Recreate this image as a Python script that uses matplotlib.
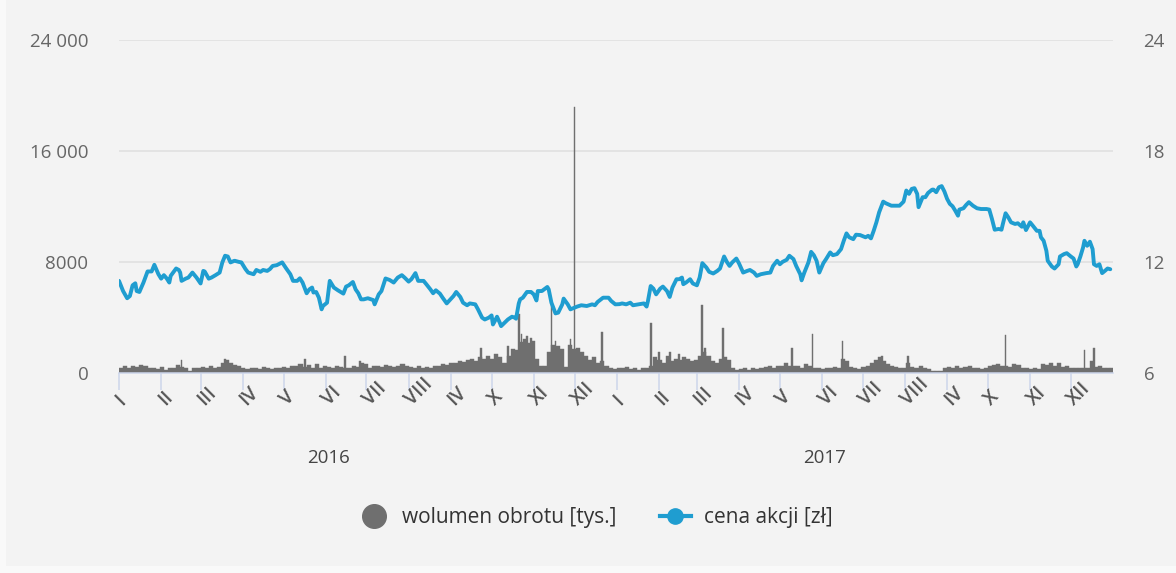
import numpy as np
import pandas as pd
import matplotlib
matplotlib.use("Agg")
import matplotlib.pyplot as plt
from matplotlib.lines import Line2D
from matplotlib.patches import Rectangle
import matplotlib.transforms as mtransforms

plt.rcParams['font.family'] = ['Open Sans', 'DejaVu Sans']

# ---- data -------------------------------------------------------------
start = pd.Timestamp('2016-01-01')
end = pd.Timestamp('2018-01-01')

# share price [zł], sampled on days counted from 1 Jan 2016
price_day = [
    0, 3, 6, 8, 10, 12, 13, 15, 18, 21,
    24, 26, 29, 31, 33, 35, 37, 38, 42, 44,
    45, 46, 49, 51, 54, 57, 60, 62, 63, 66,
    68, 71, 74, 76, 78, 80, 82, 85, 88, 90,
    93, 95, 99, 101, 104, 106, 109, 111, 113, 116,
    120, 123, 126, 128, 131, 133, 135, 138, 140, 142,
    143, 145, 147, 149, 150, 153, 155, 158, 161, 165,
    167, 169, 172, 174, 176, 178, 180, 183, 187, 188,
    191, 193, 196, 199, 202, 205, 208, 210, 213, 215,
    218, 220, 224, 226, 229, 231, 233, 236, 238, 241,
    243, 246, 248, 251, 253, 256, 258, 262, 264, 267,
    269, 272, 274, 275, 276, 278, 280, 281, 284, 286,
    289, 291, 292, 294, 295, 297, 300, 303, 305, 307,
    308, 311, 315, 316, 318, 321, 323, 326, 327, 330,
    332, 335, 337, 340, 344, 348, 350, 352, 356, 360,
    362, 365, 368, 370, 373, 376, 378, 382, 386, 388,
    389, 391, 393, 395, 398, 400, 403, 405, 407, 410,
    412, 414, 415, 417, 420, 422, 425, 427, 429, 432,
    434, 437, 440, 442, 445, 447, 449, 451, 454, 456,
    459, 462, 464, 467, 469, 472, 476, 479, 481, 484,
    486, 488, 491, 493, 496, 498, 501, 502, 504, 507,
    509, 511, 513, 515, 518, 520, 523, 525, 528, 531,
    533, 535, 537, 540, 542, 545, 549, 551, 553, 555,
    557, 559, 562, 564, 568, 571, 574, 577, 579, 581,
    583, 585, 587, 588, 590, 591, 593, 595, 598, 599,
    601, 603, 605, 607, 609, 611, 613, 615, 617, 618,
    621, 623, 625, 628, 631, 634, 638, 640, 642, 644,
    647, 649, 650, 652, 654, 656, 659, 661, 664, 665,
    667, 670, 672, 675, 677, 678, 680, 682, 683, 686,
    688, 691, 692, 695, 697, 700, 702, 704, 705, 707,
    709, 710, 712, 714, 716, 717, 719, 721, 723, 725,
    727, 729,
]
price_value = [
    10.96, 10.41, 10.02, 10.14, 10.72, 10.83, 10.41, 10.36, 10.87, 11.47,
    11.47, 11.83, 11.32, 11.08, 11.27, 11.10, 10.87, 11.23, 11.63, 11.55,
    11.41, 10.96, 11.08, 11.14, 11.41, 11.14, 10.82, 11.50, 11.47, 11.08,
    11.14, 11.27, 11.41, 11.96, 12.32, 12.28, 11.96, 12.05, 11.99, 11.96,
    11.60, 11.41, 11.32, 11.55, 11.45, 11.55, 11.50, 11.60, 11.77, 11.81,
    11.96, 11.63, 11.32, 10.96, 10.96, 11.10, 10.87, 10.29, 10.50, 10.60,
    10.33, 10.36, 10.05, 9.42, 9.60, 9.78, 10.96, 10.60, 10.45, 10.27,
    10.65, 10.72, 10.90, 10.50, 10.29, 9.96, 9.96, 10.02, 9.92, 9.69,
    10.23, 10.41, 11.09, 11.01, 10.87, 11.14, 11.27, 11.14, 10.92, 11.05,
    11.38, 10.96, 10.96, 10.78, 10.50, 10.29, 10.45, 10.27, 10.05, 9.74,
    9.90, 10.14, 10.36, 10.09, 9.78, 9.64, 9.74, 9.69, 9.42, 8.97,
    8.87, 8.97, 9.09, 8.60, 8.73, 9.02, 8.70, 8.51, 8.73, 8.87,
    9.02, 8.97, 8.91, 9.74, 9.96, 10.05, 10.36, 10.36, 10.23, 9.90,
    10.41, 10.41, 10.63, 10.50, 9.78, 9.20, 9.24, 9.69, 10.00, 9.69,
    9.42, 9.51, 9.57, 9.64, 9.60, 9.69, 9.64, 9.82, 10.05, 10.05,
    9.87, 9.69, 9.70, 9.74, 9.69, 9.78, 9.64, 9.69, 9.74, 9.57,
    9.87, 10.68, 10.54, 10.23, 10.54, 10.65, 10.41, 10.09, 10.60, 11.05,
    11.05, 11.14, 10.78, 10.87, 11.05, 10.82, 10.72, 11.14, 11.92, 11.68,
    11.45, 11.36, 11.50, 11.63, 12.28, 11.99, 11.77, 11.96, 12.17, 11.90,
    11.41, 11.50, 11.55, 11.41, 11.23, 11.32, 11.38, 11.41, 11.77, 12.05,
    11.86, 11.99, 12.10, 12.32, 12.14, 11.77, 11.32, 10.99, 11.41, 11.96,
    12.53, 12.35, 12.05, 11.41, 11.92, 12.14, 12.50, 12.35, 12.41, 12.68,
    13.13, 13.53, 13.32, 13.22, 13.46, 13.44, 13.32, 13.40, 13.26, 13.67,
    14.13, 14.67, 15.25, 15.16, 15.03, 15.03, 15.03, 15.25, 15.85, 15.67,
    15.94, 15.98, 15.67, 14.95, 15.30, 15.49, 15.49, 15.72, 15.90, 15.90,
    15.76, 16.03, 16.09, 15.80, 15.40, 15.13, 15.00, 14.76, 14.49, 14.82,
    14.89, 15.07, 15.22, 15.03, 14.89, 14.85, 14.85, 14.82, 14.31, 13.73,
    13.77, 13.73, 14.04, 14.62, 14.40, 14.13, 14.04, 14.08, 13.89, 14.13,
    13.71, 14.13, 13.95, 13.67, 13.67, 13.32, 13.13, 12.59, 12.05, 11.74,
    11.63, 11.86, 12.28, 12.41, 12.46, 12.28, 12.17, 11.74, 11.86, 12.28,
    12.77, 13.13, 12.86, 13.08, 12.68, 11.86, 11.77, 11.86, 11.38, 11.50,
    11.63, 11.59,
]

# turnover volume [thousand shares], three-day buckets from 1 Jan 2016
volume_bucket_days = 3
volume_base = [
    350, 450, 300, 500, 400, 550, 450, 350, 300, 250, 400,
    150,
    350, 300, 550, 400, 300,
    100,
    300, 350, 400, 300, 450, 350, 400, 700, 900, 650, 550, 450,
    300, 250, 350, 300, 250, 400, 300, 250, 350, 300,
    400, 350, 500, 450, 600, 400, 550, 300,
    600,
    300, 450, 400, 350, 500, 400, 300, 350, 450, 400, 700, 600,
    350, 450, 500, 400, 550, 450, 400, 500, 600, 450, 400, 350, 500,
    300, 400, 350, 450,
    500, 600, 550, 700, 650, 800, 750, 900, 1000, 850, 1100, 950, 1200, 1000, 1300, 1100,
    700, 1200, 1700, 1600, 2200, 2400, 2100, 2300, 1000, 500, 450, 1500, 2000, 1900, 1700, 400,
    2000, 1700, 1800, 1500, 1200, 900, 1100, 700, 800, 500,
    300, 250, 350, 300, 400, 250, 300, 200, 350, 300,
    500, 1100, 900, 700, 1200, 800, 1000, 900, 1100, 1000, 800, 900, 1200,
    1500, 1200, 800, 700, 1000, 1100, 900,
    300, 200, 250, 300, 200, 350, 250, 300,
    400, 450, 350, 500, 450, 700, 500, 450,
    500, 350, 600, 450, 300,
    300, 250, 350, 300, 400, 300, 1000, 800, 400, 300, 250,
    400, 500, 700, 900, 1100, 800, 600, 500, 400,
    300, 350, 700, 400, 350, 500, 300, 250,
    100, 100, 100,
    350, 400, 300, 450, 350,
    400, 500, 300, 350, 250,
    350, 450, 550, 600, 500, 450, 400, 600, 550, 350, 300, 250, 300, 250,
    600, 550, 700, 500, 650, 400, 500,
    300, 300, 350, 300, 350, 800, 400, 500, 350, 300, 300,
]

# single sessions with exceptional turnover [thousand shares]
volume_peak_dates = [
    '2016-02-16', '2016-03-19', '2016-05-17', '2016-06-15', '2016-06-26',
    '2016-09-23', '2016-10-13', '2016-10-21', '2016-10-23', '2016-10-27',
    '2016-10-30', '2016-11-14', '2016-11-17', '2016-11-28', '2016-12-01',
    '2016-12-21', '2017-01-26', '2017-02-01', '2017-02-09', '2017-02-16',
    '2017-03-05', '2017-03-07', '2017-03-20', '2017-05-10', '2017-05-25',
    '2017-06-16', '2017-07-15', '2017-08-03', '2017-10-14', '2017-12-11',
    '2017-12-18',
]
volume_peak_values = [
    900, 1000, 1000, 1200, 800,
    1800, 1900, 4200, 2800, 2600,
    2500, 5000, 2300, 2400, 19200,
    2900, 3600, 1500, 1500, 1300,
    4900, 1800, 3200, 1800, 2800,
    2300, 1200, 1200, 2700, 1600,
    1800,
]

month_labels = ['I', 'II', 'III', 'IV', 'V', 'VI', 'VII', 'VIII', 'IV', 'X', 'XI', 'XII']
year_labels = ['2016', '2017']
volume_ticks = [0, 8000, 16000, 24000]
volume_tick_labels = ['0', '8000', '16 000', '24 000']
price_ticks = [6, 12, 18, 24]

series_names = ['wolumen obrotu [tys.]', 'cena akcji [zł]']

# ---- styling ----------------------------------------------------------
W, H, DPI = 1176, 573, 100
BG = '#f3f3f3'
VOL_COLOR = '#6f6f6f'
PRICE_COLOR = '#1f9dd0'
AXIS_COLOR = '#ccd6eb'
GRID_COLOR = '#e3e3e3'
TICK_TEXT = '#666666'
LABEL_TEXT = '#555555'

fig = plt.figure(figsize=(W / DPI, H / DPI), dpi=DPI)
fig.patch.set_facecolor('#f9f9f9')
fig.add_artist(Rectangle((6 / W, 7 / H), 1, 1, transform=fig.transFigure,
                         facecolor=BG, edgecolor='none', zorder=-10))

ax_left, ax_right_px, ax_bottom_px, ax_top_px = 119, 1113, 372.5, 40
ax = fig.add_axes([ax_left / W, (H - ax_bottom_px) / H,
                   (ax_right_px - ax_left) / W, (ax_bottom_px - ax_top_px) / H])
ax.set_facecolor('none')
ax2 = ax.twinx()

# volume bars
bucket_dates = pd.date_range(start, periods=len(volume_base), freq=f'{volume_bucket_days}D')
ax.bar(bucket_dates, volume_base, width=volume_bucket_days, align='edge',
       color=VOL_COLOR, edgecolor=VOL_COLOR, linewidth=0.3, zorder=2)
ax.bar(pd.to_datetime(volume_peak_dates), volume_peak_values, width=1.3, align='center',
       color=VOL_COLOR, edgecolor=VOL_COLOR, linewidth=0.3, zorder=2)

# price line
price_dates = start + pd.to_timedelta(price_day, unit='D')
ax2.plot(price_dates, price_value, color=PRICE_COLOR, lw=2.8,
         solid_joinstyle='round', solid_capstyle='round', zorder=3)

# axes limits & grid
ax.set_xlim(start, end)
ax.set_ylim(0, 24000)
ax2.set_ylim(6, 24)
for v in volume_ticks[1:]:
    ax.axhline(v, color=GRID_COLOR, lw=1.4, zorder=0)

for a in (ax, ax2):
    for s in a.spines.values():
        s.set_visible(False)
ax.spines['bottom'].set_visible(True)
ax.spines['bottom'].set_color(AXIS_COLOR)
ax.spines['bottom'].set_linewidth(1.1)
ax.spines['bottom'].set_zorder(4)

ax.set_yticks(volume_ticks)
ax.set_yticklabels(volume_tick_labels)
ax.tick_params(axis='y', length=0, pad=22, labelsize=13.5, labelcolor=TICK_TEXT)
ax2.set_yticks(price_ticks)
ax2.set_yticklabels([str(t) for t in price_ticks])
ax2.tick_params(axis='y', length=0, pad=22, labelsize=13.5, labelcolor=TICK_TEXT)

month_starts = pd.date_range(start, end - pd.Timedelta(days=1), freq='MS')
ax.set_xticks(month_starts)
ax.set_xticklabels(month_labels * 2)
ax.tick_params(axis='x', length=12.5, width=1.1, color=AXIS_COLOR, pad=9,
               labelsize=14, labelcolor=LABEL_TEXT)
for lab in ax.get_xticklabels():
    lab.set_rotation(45)
    lab.set_rotation_mode('anchor')
    lab.set_ha('left')
    lab.set_va('center')
    lab.set_fontweight('semibold')

# year captions under the month labels
year_tr = mtransforms.blended_transform_factory(ax.transData, fig.transFigure)
for y in year_labels:
    ax.text(pd.Timestamp(f'{y}-06-03'), (H - 458) / H, y, transform=year_tr,
            ha='center', va='center', fontsize=13.5, color='#444444')

# legend
handles = [
    Line2D([], [], ls='none', marker='o', ms=17, color=VOL_COLOR),
    Line2D([], [], color=PRICE_COLOR, lw=3, marker='o', ms=11),
]
fig.legend(handles, series_names, loc='center', bbox_to_anchor=(595 / W, (H - 518) / H),
           ncol=2, frameon=False, fontsize=15, handlelength=1.5, handletextpad=0.6,
           columnspacing=2.1, labelcolor='#333333')

fig.savefig('out.png', dpi=DPI, facecolor=fig.get_facecolor())
